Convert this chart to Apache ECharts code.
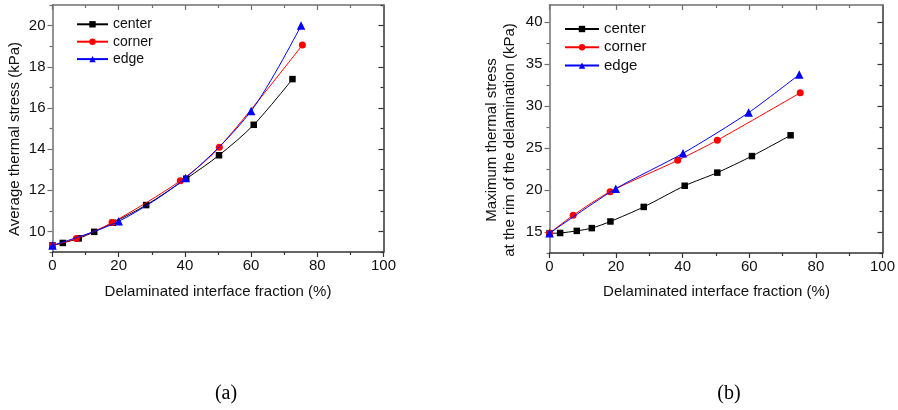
<!DOCTYPE html>
<html>
<head>
<meta charset="utf-8">
<script src="https://cdn.jsdelivr.net/npm/echarts@6/dist/echarts.min.js"></script>
<style>
html,body{margin:0;padding:0;background:#fff;}
#c{width:898px;height:410px;}
</style>
</head>
<body>
<div id="c"></div>
<script>
// ---- Data ----
const seriesNames = ['center', 'corner', 'edge'];

// (a) Average thermal stress (kPa)
const aCenterX = [0, 3.1, 7.9, 12.6, 18.2, 28.3, 40.4, 50.3, 60.8, 72.5];
const aCenterY = [9.32, 9.44, 9.66, 9.98, 10.42, 11.28, 12.56, 13.70, 15.18, 17.40];
const aCornerX = [0, 7.2, 18.0, 38.6, 50.4, 75.5];
const aCornerY = [9.32, 9.65, 10.43, 12.46, 14.09, 19.06];
const aEdgeX = [0, 20.0, 40.2, 60.0, 75.1];
const aEdgeY = [9.32, 10.49, 12.60, 15.85, 20.00];

// (b) Maximum thermal stress at the rim of the delamination (kPa)
const bCenterX = [0, 3.2, 8.2, 12.7, 18.3, 28.3, 40.6, 50.4, 60.8, 72.4];
const bCenterY = [14.85, 14.88, 15.13, 15.46, 16.25, 17.98, 20.5, 22.06, 24.03, 26.5];
const bCornerX = [0, 7.1, 18.2, 38.5, 50.4, 75.3];
const bCornerY = [14.85, 16.98, 19.8, 23.52, 25.92, 31.55];
const bEdgeX = [0, 19.9, 40.1, 59.8, 75.0];
const bEdgeY = [14.85, 20.15, 24.36, 29.2, 33.73];

// Axis ticks
const xMin = 0, xMax = 100, xStep = 20;
const aYMin = 9, aYMax = 21;
const aYMajor = [10, 12, 14, 16, 18, 20];
const aYMinor = [9, 11, 13, 15, 17, 19, 21];
const bYMin = 12.5, bYMax = 42;
const bYMajor = [15, 20, 25, 30, 35, 40];
const bYMinor = [12.5, 17.5, 22.5, 27.5, 32.5, 37.5];

// Texts
const xTitle = 'Delaminated interface fraction (%)';
const aYTitle = 'Average thermal stress (kPa)';
const bYTitle = 'Maximum thermal stress\nat the rim of the delamination (kPa)';
const captions = ['(a)', '(b)'];

// ---- Styling ----
const FONT = '"Liberation Sans", Arial, sans-serif';
const TXT = '#111111';
const DARK = '#333333';
const GREY = '#707070';
const colors = ['#000000', '#ff0000', '#0000ff'];
const symbols = ['rect', 'circle', 'triangle'];
const symSizes = [6.5, 7, 8.5];

const zip = (xs, ys) => xs.map((x, i) => [x, ys[i]]);

function xAx(grid, pos, color, inside, labels) {
  return {
    type: 'value', gridIndex: grid, position: pos, min: xMin, max: xMax, interval: xStep,
    axisLine: {show: true, onZero: false, lineStyle: {color: color, width: 1.5}},
    axisTick: {show: true, inside: inside, length: 5, lineStyle: {color: color, width: 1.2}},
    minorTick: {show: true, splitNumber: 2, length: 3, lineStyle: {color: color, width: 1.2}},
    axisLabel: {show: labels, margin: 6, color: TXT, fontSize: 15, fontFamily: FONT},
    splitLine: {show: false}, minorSplitLine: {show: false}
  };
}
function yAx(grid, pos, min, max, ticks, len, inside, labels, color, showLine) {
  return {
    type: 'value', gridIndex: grid, position: pos, min: min, max: max,
    axisLine: {show: showLine, onZero: false, lineStyle: {color: color, width: 1.5}},
    axisTick: {show: true, inside: inside, length: len, customValues: ticks, lineStyle: {color: color, width: 1.2}},
    axisLabel: {show: labels, customValues: ticks, margin: 7, color: TXT, fontSize: 15, fontFamily: FONT},
    splitLine: {show: false}
  };
}

function mkSeries(grid, xi, yi, xsArr, ysArr, smooth) {
  return xsArr.map((xs, k) => ({
    name: seriesNames[k], type: 'line', xAxisIndex: xi, yAxisIndex: yi,
    data: zip(xs, ysArr[k]), smooth: smooth,
    symbol: symbols[k], symbolSize: symSizes[k], showSymbol: true,
    lineStyle: {color: colors[k], width: 1},
    itemStyle: {color: colors[k]},
    z: 2 + k, animation: false
  }));
}

const chart = echarts.init(document.getElementById('c'), null, {renderer: 'canvas'});
const option = {
  animation: false,
  backgroundColor: '#ffffff',
  grid: [
    {left: 52.5, top: 5, width: 331, height: 247},
    {left: 549.5, top: 5, width: 334, height: 248}
  ],
  xAxis: [
    xAx(0, 'bottom', DARK, false, true),
    xAx(0, 'top', GREY, true, false),
    xAx(1, 'bottom', DARK, false, true),
    xAx(1, 'top', GREY, true, false)
  ],
  yAxis: [
    yAx(0, 'left', aYMin, aYMax, aYMajor, 5, false, true, GREY, true),
    yAx(0, 'left', aYMin, aYMax, aYMinor, 3, false, false, GREY, false),
    yAx(0, 'right', aYMin, aYMax, aYMajor, 5, true, false, DARK, true),
    yAx(0, 'right', aYMin, aYMax, aYMinor, 3, true, false, DARK, false),
    yAx(1, 'left', bYMin, bYMax, bYMajor, 5, false, true, GREY, true),
    yAx(1, 'left', bYMin, bYMax, bYMinor, 3, false, false, GREY, false),
    yAx(1, 'right', bYMin, bYMax, bYMajor, 5, true, false, DARK, true),
    yAx(1, 'right', bYMin, bYMax, bYMinor, 3, true, false, DARK, false)
  ],
  legend: [
    {
      data: seriesNames, orient: 'vertical', left: 76, top: 17.3, padding: 0,
      itemWidth: 31, itemHeight: 8, itemGap: 3.4, selectedMode: false,
      textStyle: {fontSize: 14, lineHeight: 14, color: TXT, fontFamily: FONT}
    },
    {
      data: seriesNames, orient: 'vertical', left: 564, top: 21.5, padding: 0,
      itemWidth: 34, itemHeight: 8, itemGap: 3.3, selectedMode: false,
      textStyle: {fontSize: 15, lineHeight: 15, color: TXT, fontFamily: FONT}
    }
  ],
  series: [].concat(
    mkSeries(0, 0, 0, [aCenterX, aCornerX, aEdgeX], [aCenterY, aCornerY, aEdgeY], 0.3),
    mkSeries(1, 2, 4, [bCenterX, bCornerX, bEdgeX], [bCenterY, bCornerY, bEdgeY], 0.25)
  ),
  graphic: [
    {type: 'text', x: 15, y: 139, rotation: Math.PI / 2,
      style: {text: aYTitle, x: 0, y: 0, textAlign: 'center', textVerticalAlign: 'middle',
        font: '15px ' + FONT, fill: TXT}},
    {type: 'text', x: 501, y: 140, rotation: Math.PI / 2,
      style: {text: bYTitle, x: 0, y: 0, textAlign: 'center', textVerticalAlign: 'middle',
        lineHeight: 18.3, font: '15px ' + FONT, fill: TXT}},
    {type: 'text', x: 218, y: 292,
      style: {text: xTitle, x: 0, y: 0, textAlign: 'center', textVerticalAlign: 'middle',
        font: '15px ' + FONT, fill: TXT}},
    {type: 'text', x: 716.5, y: 292,
      style: {text: xTitle, x: 0, y: 0, textAlign: 'center', textVerticalAlign: 'middle',
        font: '15px ' + FONT, fill: TXT}},
    {type: 'text', x: 226, y: 394,
      style: {text: captions[0], x: 0, y: 0, textAlign: 'center', textVerticalAlign: 'middle',
        font: '20px "Liberation Serif", "DejaVu Serif", serif', fill: '#000'}},
    {type: 'text', x: 729, y: 394,
      style: {text: captions[1], x: 0, y: 0, textAlign: 'center', textVerticalAlign: 'middle',
        font: '20px "Liberation Serif", "DejaVu Serif", serif', fill: '#000'}}
  ]
};
chart.setOption(option);
</script>
</body>
</html>
